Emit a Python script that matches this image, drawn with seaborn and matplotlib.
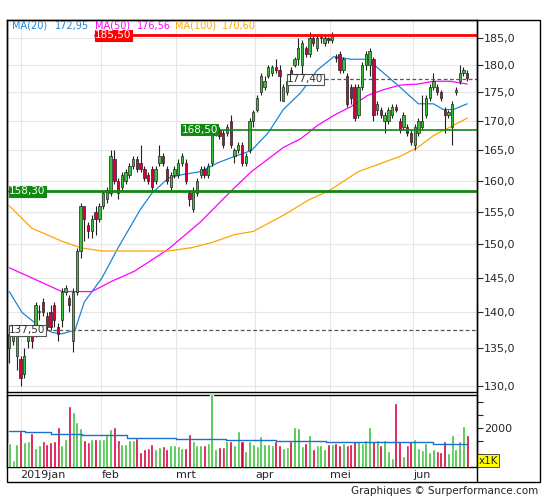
import numpy as np
import pandas as pd
import matplotlib
matplotlib.use("Agg")
import matplotlib.pyplot as plt
import matplotlib.ticker as mticker
from matplotlib.patches import Rectangle
import seaborn as sns

# --- candles (open, close, high, low) ---
opens = [135, 136, 134, 133.5, 131.5, 136, 137, 137, 140, 141.5,
         139.5, 140, 141, 138, 139, 143, 142, 136, 143, 149,
         156, 153, 152, 155, 154, 156, 157, 158, 163.5, 160,
         159, 160, 161, 162.5, 163.5, 163, 162, 161, 162, 160,
         163, 164, 162, 159, 161, 161, 163, 163, 158, 155.5,
         158, 161, 162, 161, 163, 168, 168.5, 168, 168, 170,
         164, 165, 166, 163, 165, 170, 172, 175, 176, 178,
         178.5, 179.5, 179, 173.5, 175, 179, 180, 181, 180, 183,
         182, 185, 183, 185, 184, 185, 184.5, 181.5, 182, 179,
         178, 176, 176, 171, 176, 180, 180, 181, 172, 172,
         170, 170, 171, 172.5, 170, 169, 169, 168, 166, 168,
         169, 171, 174, 176, 176, 175, 172, 171, 169, 175,
         177, 178.5, 178.5]
closes = [137, 137, 137, 131, 134, 137, 136, 141, 140.2, 140,
          138, 138, 139, 137, 143, 143.5, 141, 143, 149, 156,
          154, 152, 154, 154, 156, 158, 158.5, 164, 160, 158,
          161, 161.5, 162.5, 163.5, 162, 162, 160.5, 160, 159, 162,
          164, 163, 160, 161, 162, 163, 164, 160, 157, 158.5,
          160, 162, 161, 162.5, 169, 168.5, 167.5, 166, 169, 166,
          165, 166, 163, 164, 170, 171.5, 174, 178, 177, 179.5,
          179.5, 179, 178, 176, 177, 178, 181, 183, 184, 182,
          185, 184, 185, 185.2, 185, 184.5, 185.3, 181.3, 179, 181,
          173, 174, 170.5, 176, 180, 182, 182.5, 171, 173, 171,
          171, 172, 172.5, 172, 168.5, 171, 168, 166.5, 169, 170,
          170, 174, 176, 177, 175, 174, 171, 171.5, 173, 175.5,
          178.5, 179, 177.5]
highs = [138, 138, 137.5, 134, 135, 138, 138, 141.5, 141, 142,
         140, 141, 141.5, 138.5, 143.5, 144, 142.5, 143.5, 149.5, 156.5,
         156, 153.5, 154.5, 156, 156.5, 158.3, 159, 165, 165, 160.5,
         161.5, 162, 163, 164, 164, 166, 162.5, 161.5, 162.5, 162.5,
         166, 164.5, 162.5, 161.5, 162.5, 163.5, 164.5, 163.5, 158.5, 159,
         160.5, 162.5, 162.5, 163, 169.5, 169, 169, 168.5, 169.5, 171,
         165.5, 166.5, 166.5, 164.5, 170.5, 172, 174.5, 178.5, 178, 180,
         180, 181, 180, 176.5, 177.5, 179.5, 181.5, 185, 184.5, 183.5,
         186, 185.5, 185.5, 185.7, 185.5, 185.2, 186, 182, 182.5, 181.5,
         178.5, 176.5, 176.5, 176.5, 180.5, 182.5, 183, 181.5, 173.5, 172.5,
         171.5, 172.5, 173, 173, 170.5, 171.5, 169.5, 168.5, 169.5, 170.5,
         174.5, 174.5, 176.5, 178.5, 176.5, 175.5, 172.5, 172, 173.5, 176,
         180, 179.5, 179]
lows = [133, 135.5, 132, 130, 131, 135, 135, 136.5, 139, 139.5,
        137.5, 137.5, 138, 136, 138, 142.5, 140, 134.5, 142.5, 148,
        150.5, 151, 151, 151.5, 153.5, 155.5, 156.5, 157.5, 159.5, 157,
        158.5, 159.5, 160.5, 162, 161.5, 161.5, 160, 159.5, 158.5, 159.5,
        162.5, 162.5, 159.5, 158.5, 160.5, 160.5, 162.5, 159.5, 156, 155,
        157.5, 160.5, 160.5, 160.5, 162.5, 167.5, 167, 165.5, 167.5, 165.5,
        163, 164.5, 162.5, 162.5, 164.5, 169, 171.5, 174.5, 175.5, 177.5,
        178, 178.5, 173.5, 173.5, 174.5, 177, 179.5, 180, 177, 181.5,
        181.5, 183.5, 182.5, 184, 183.5, 184, 184, 180.5, 178.5, 178.5,
        172.5, 173, 170, 170.5, 175.5, 179, 178, 170, 171, 170.5,
        168, 169.5, 170.5, 171.5, 168, 168.5, 167.5, 166, 165, 167.5,
        168.5, 170.5, 173.5, 175.5, 174.5, 173.5, 168, 170.5, 166, 174.5,
        176.5, 178, 177]
volumes = [1417, 749, 1378, 1862, 1443, 1469, 1797, 1220, 1338, 1469,
           1378, 1443, 1469, 2033, 1312, 1574, 2819, 2596, 2203, 1967,
           1535, 1443, 1574, 1574, 1574, 1574, 1705, 1928, 2033, 1535,
           1378, 1378, 1509, 1509, 1613, 1076, 1181, 1220, 1378, 1181,
           1247, 1286, 1181, 1338, 1338, 1286, 1207, 1207, 1771, 1469,
           1312, 1312, 1338, 1417, 3300, 1181, 1247, 1247, 1469, 1469,
           1312, 1862, 1469, 1115, 1469, 1378, 1273, 1666, 1378, 1378,
           1338, 1469, 1338, 1207, 1247, 1469, 2033, 1967, 1273, 1404,
           1731, 1181, 1312, 1312, 1181, 1378, 1378, 1417, 1338, 1417,
           1312, 1365, 1482, 1469, 1404, 1535, 2033, 1482, 1535, 1312,
           1535, 1115, 827, 2950, 1469, 919, 1338, 1469, 1574, 1207,
           1142, 1404, 1050, 1181, 1115, 1076, 1469, 1024, 1731, 1181,
           1469, 2059, 1705]

# moving averages read at a few points (bar index, value)
ma20_idx = [0, 3.4, 7.4, 11.4, 14, 17.5, 20, 24.7, 29, 35, 38, 42.5, 46, 51, 55.7, 60,
            64.5, 69, 73, 77.7, 82, 86.5, 91, 95.5, 99.7, 104, 109, 113, 115.6, 118.3, 122]
ma20_val = [143, 140, 138.3, 137.2, 137, 137.5, 141.5, 145, 149.5, 155.5, 158, 160.5, 161,
            161.5, 163, 164, 165, 168, 172, 175, 179, 181.5, 181, 181, 178.5, 176, 173, 173,
            172, 172, 173]
ma50_idx = [0, 6, 14, 22, 27.3, 33.4, 42.4, 51, 59, 64.5, 73, 77.7, 82, 86.5, 91, 95.5,
            99.7, 104, 108.8, 113, 117.5, 122]
ma50_val = [146.5, 145, 143, 143, 144.5, 146, 149.3, 153.5, 158.3, 161.5, 165.5, 167,
            169.2, 171, 172.5, 174.5, 175.5, 176.3, 176.5, 177, 177, 176.5]
ma100_idx = [0, 6, 14, 19, 24.7, 32.6, 42.4, 48.5, 54, 60, 65, 73, 80, 84.9, 93, 104,
             108.8, 113, 117.5, 122]
ma100_val = [156, 152.5, 150.5, 149.5, 149, 149, 149, 149.5, 150.3, 151.5, 152, 154.5,
             157, 158.3, 161.5, 164, 165.5, 167.5, 169, 170.5]
vma_idx = [0, 8.5, 14, 24.7, 38, 51, 64.5, 77.7, 91, 104, 122]
vma_val = [1860, 1830, 1770, 1730, 1600, 1580, 1540, 1480, 1430, 1430, 1380]

month_pos = [3, 24.5, 44.5, 65.5, 85.5, 107.5]
month_labels = ["2019jan", "feb", "mrt", "apr", "mei", "jun"]
price_ticks = [130, 135, 140, 145, 150, 155, 160, 165, 170, 175, 180, 185]

GREEN = "#39c239"
RED = "#d8003a"

sns.set_style("white")
plt.rcParams["font.family"] = ["DejaVu Sans"]

fig = plt.figure(figsize=(5.45, 5.0), dpi=100)
ax = fig.add_axes([7 / 545, 1 - 392 / 500, 470 / 545, 372 / 500])
axv = fig.add_axes([7 / 545, 1 - 467 / 500, 470 / 545, 72 / 500], sharex=ax)

df = pd.DataFrame({"o": opens, "c": closes, "h": highs, "l": lows, "v": volumes})
df["i"] = np.arange(len(df))
df["up"] = df["c"] >= df["o"]
colors = [GREEN if u else RED for u in df["up"]]

# grid
for a in (ax, axv):
    for m in month_pos:
        a.axvline(m, color="#e6e6e6", lw=0.8, zorder=0)
for p in price_ticks:
    ax.axhline(p, color="#e6e6e6", lw=0.8, zorder=0)

# candles
ax.vlines(df["i"], df["l"], df["h"], color="#222222", lw=0.8, zorder=3)
bottoms = np.minimum(df["o"], df["c"])
heights = np.maximum(np.abs(df["c"] - df["o"]), 0.15)
ax.bar(df["i"], heights, bottom=bottoms, width=0.62, color=colors,
       edgecolor="#222222", linewidth=0.5, zorder=4)

# moving averages
sns.lineplot(x=ma20_idx, y=ma20_val, ax=ax, color="#1c86d8", lw=0.9, zorder=2)
sns.lineplot(x=ma50_idx, y=ma50_val, ax=ax, color="#ff00ff", lw=0.9, zorder=2)
sns.lineplot(x=ma100_idx, y=ma100_val, ax=ax, color="#ffa500", lw=0.9, zorder=2)

ax.set_yscale("log")
ax.set_ylim(129.15, 188.35)
ax.set_xlim(-0.6, 124.6)
ax.yaxis.set_major_locator(mticker.FixedLocator(price_ticks))
ax.yaxis.set_major_formatter(mticker.FixedFormatter([f"{p},0" for p in price_ticks]))
ax.yaxis.set_minor_locator(mticker.NullLocator())
ax.yaxis.tick_right()
ax.tick_params(axis="y", labelsize=8, length=4, pad=1, direction="out", right=True)
ax.tick_params(axis="x", bottom=False, labelbottom=False)
for s in ax.spines.values():
    s.set_color("black")
    s.set_linewidth(1)

# level lines
def level(y, x0, txt, color, lw, ls, boxfc, tc, ec, fs=7.5):
    ax.plot([x0, 124.6], [y, y], color=color, lw=lw, ls=ls, zorder=5)
    ax.text(x0, y, txt, ha="left", va="center", fontsize=fs, color=tc, zorder=7,
            bbox=dict(boxstyle="square,pad=0.05", fc=boxfc, ec=ec, lw=0.8))

level(185.5, 22.9, "185,50", "#ff0000", 2, "-", "#ff0000", "white", "#ff0000")
level(168.5, 45.9, "168,50", "#118811", 1.2, "-", "#118811", "white", "#118811")
level(158.3, 0.0, "158,30", "#118811", 2, "-", "#118811", "white", "#118811")
level(177.4, 74.0, "177,40", "#555555", 0.9, (0, (3, 2)), "white", "#333333", "#555555")
level(137.5, 0.0, "137,50", "#555555", 0.9, (0, (3, 2)), "white", "#333333", "#555555")

# MA legend
parts = [("MA(20)", "#1c86d8"), ("172,95", "#1c86d8"), ("MA(50)", "#ff00ff"),
         ("176,56", "#ff00ff"), ("MA(100)", "#ffa500"), ("170,60", "#ffa500")]
xs = [12, 55, 95, 137, 175, 222]
for (t, c), x in zip(parts, xs):
    fig.text(x / 545, 1 - 26 / 500, t, color=c, fontsize=7, va="center")

# volume
axv.bar(df["i"], df["v"], width=0.8, color=colors, zorder=3)
sns.lineplot(x=vma_idx, y=vma_val, ax=axv, color="#1c6fd0", lw=1.0, zorder=4,
             drawstyle="steps-mid")
axv.set_ylim(480, 3260)
axv.yaxis.set_major_locator(mticker.FixedLocator([1000, 1500, 2000, 2500, 3000]))
axv.yaxis.set_major_formatter(mticker.FixedFormatter(["", "", "2000", "", ""]))
axv.yaxis.tick_right()
axv.tick_params(axis="y", labelsize=8, length=4, pad=1, right=True)
axv.tick_params(axis="x", bottom=False, labelbottom=False)
for s in axv.spines.values():
    s.set_color("black")
    s.set_linewidth(1)
axv.text(1.003, 0.02, "x1K", transform=axv.transAxes, fontsize=7.5, ha="left", va="bottom",
         bbox=dict(boxstyle="square,pad=0.15", fc="#ffff00", ec="#333333", lw=0.6))
for m, lab in zip(month_pos, month_labels):
    fig.text((7 + (m + 0.6) / 125.2 * 470) / 545, 1 - 475 / 500, lab, fontsize=8, va="center")

# outer frame
fig.add_artist(Rectangle((7 / 545, 1 - 482 / 500), 533 / 545, 462 / 500, transform=fig.transFigure,
                         fill=False, ec="black", lw=1))
fig.add_artist(plt.Line2D([477 / 545, 477 / 545], [1 - 482 / 500, 1 - 20 / 500],
                          transform=fig.transFigure, color="black", lw=1))
fig.text(538 / 545, 1 - 491 / 500, "Graphiques © Surperformance.com", fontsize=7.5,
         ha="right", va="center", color="#222222")

fig.savefig("out.png", dpi=100)
